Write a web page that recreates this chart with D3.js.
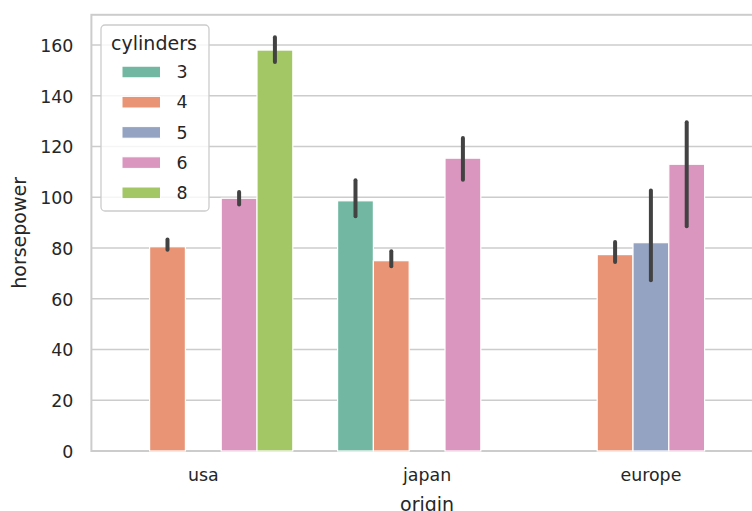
<!DOCTYPE html>
<html>
<head>
<meta charset="utf-8">
<script src="https://cdn.jsdelivr.net/npm/d3@7"></script>
<style>
  html, body { margin: 0; padding: 0; background: #fff; }
  svg { display: block; font-family: "DejaVu Sans", sans-serif; }
</style>
</head>
<body>
<svg id="chart" width="752" height="511"></svg>
<script>
// ---- data ----
const origins = ["usa", "japan", "europe"];
const cylinders = ["3", "4", "5", "6", "8"];
const yTicks = [0, 20, 40, 60, 80, 100, 120, 140, 160];
// mean horsepower per cylinder count, by origin (null = no cars)
const hp3 = [null, 98.6, null];
const hp4 = [80.5, 75.0, 77.4];
const hp5 = [null, null, 82.1];
const hp6 = [99.6, 115.4, 113.0];
const hp8 = [158.0, null, null];
// 95% CI lows / highs
const lo3 = [null, 92.5, null];
const hi3 = [null, 106.7, null];
const lo4 = [79.3, 72.8, 74.5];
const hi4 = [83.3, 78.7, 82.4];
const lo5 = [null, null, 67.3];
const hi5 = [null, null, 102.7];
const lo6 = [97.1, 106.9, 88.6];
const hi6 = [102.1, 123.3, 129.6];
const lo8 = [153.3, null, null];
const hi8 = [163.1, null, null];
const palette = ["#71b7a1", "#e99575", "#95a3c3", "#db96c0", "#a2c764"];

(function () {
const means = [hp3, hp4, hp5, hp6, hp8];
const lows = [lo3, lo4, lo5, lo6, lo8];
const highs = [hi3, hi4, hi5, hi6, hi8];

const records = [];
cylinders.forEach((c, ci) => {
  origins.forEach((o, oi) => {
    if (means[ci][oi] != null) {
      records.push({ origin: o, cyl: c, hp: means[ci][oi], lo: lows[ci][oi], hi: highs[ci][oi] });
    }
  });
});

// ---- layout ----
const svg = d3.select("#chart");
const mLeft = 91.4, mRight = 762.8, mTop = 14.8, mBottom = 451;
const textColor = "#262626";
const gridColor = "#cccccc";

const x = d3.scaleBand().domain(origins).range([mLeft, mRight]).paddingInner(0).paddingOuter(0);
const xHue = d3.scaleBand().domain(cylinders).range([0.1 * x.bandwidth(), 0.9 * x.bandwidth()]);
const y = d3.scaleLinear().domain([0, 171.9]).range([mBottom, mTop]);
const color = d3.scaleOrdinal().domain(cylinders).range(palette);

// grid
svg.append("g").selectAll("line").data(yTicks).join("line")
  .attr("x1", mLeft).attr("x2", mRight)
  .attr("y1", d => y(d)).attr("y2", d => y(d))
  .attr("stroke", gridColor).attr("stroke-width", 1.6);

// spines
svg.append("rect")
  .attr("x", mLeft).attr("y", mTop)
  .attr("width", mRight - mLeft).attr("height", mBottom - mTop)
  .attr("fill", "none").attr("stroke", gridColor).attr("stroke-width", 2);

// bars
svg.append("g").selectAll("rect").data(records).join("rect")
  .attr("x", d => x(d.origin) + xHue(d.cyl))
  .attr("width", xHue.bandwidth())
  .attr("y", d => y(d.hp))
  .attr("height", d => y(0) - y(d.hp))
  .attr("fill", d => color(d.cyl))
  .attr("stroke", "#ffffff").attr("stroke-width", 1.2);

// error bars
svg.append("g").selectAll("line").data(records).join("line")
  .attr("x1", d => x(d.origin) + xHue(d.cyl) + xHue.bandwidth() / 2)
  .attr("x2", d => x(d.origin) + xHue(d.cyl) + xHue.bandwidth() / 2)
  .attr("y1", d => y(d.lo)).attr("y2", d => y(d.hi))
  .attr("stroke", "#424242").attr("stroke-width", 4).attr("stroke-linecap", "round");

// y axis
const yAxis = d3.axisLeft(y).tickValues(yTicks).tickSize(0).tickPadding(18);
const gy = svg.append("g").attr("transform", `translate(${mLeft},0)`).call(yAxis);
gy.select(".domain").remove();
gy.selectAll("text").attr("fill", textColor).style("font-size", "17.4px").attr("dy", "0.36em")
  .style("font-family", "DejaVu Sans");

// x axis
const xAxis = d3.axisBottom(x).tickSize(0).tickPadding(18);
const gx = svg.append("g").attr("transform", `translate(0,${mBottom})`).call(xAxis);
gx.select(".domain").remove();
gx.selectAll("text").attr("fill", textColor).style("font-size", "17.4px")
  .style("font-family", "DejaVu Sans");

// axis labels
svg.append("text")
  .attr("transform", `translate(25.5,${(mTop + mBottom) / 2}) rotate(-90)`)
  .attr("text-anchor", "middle").attr("fill", textColor)
  .style("font-size", "19px").text("horsepower");
svg.append("text")
  .attr("x", x("japan") + x.bandwidth() / 2).attr("y", 510.5)
  .attr("text-anchor", "middle").attr("fill", textColor)
  .style("font-size", "19px").text("origin");

// legend
const lg = svg.append("g");
lg.append("rect")
  .attr("x", 101).attr("y", 25).attr("width", 108).attr("height", 186)
  .attr("rx", 4).attr("ry", 4)
  .attr("fill", "#ffffff").attr("fill-opacity", 0.8)
  .attr("stroke", gridColor).attr("stroke-width", 1.3);
lg.append("text")
  .attr("x", 154).attr("y", 50).attr("text-anchor", "middle")
  .attr("fill", textColor).style("font-size", "19px").text("cylinders");
const rows = lg.selectAll("g.row").data(cylinders).join("g")
  .attr("class", "row")
  .attr("transform", (d, i) => `translate(0,${72 + i * 30.2})`);
rows.append("rect")
  .attr("x", 122).attr("y", -5.8).attr("width", 38.5).attr("height", 11.6)
  .attr("fill", d => color(d)).attr("stroke", "#ffffff").attr("stroke-width", 1);
rows.append("text")
  .attr("x", 176.5).attr("y", 0).attr("dy", "0.36em")
  .attr("fill", textColor).style("font-size", "17.4px").text(d => d);
})();
</script>
</body>
</html>
